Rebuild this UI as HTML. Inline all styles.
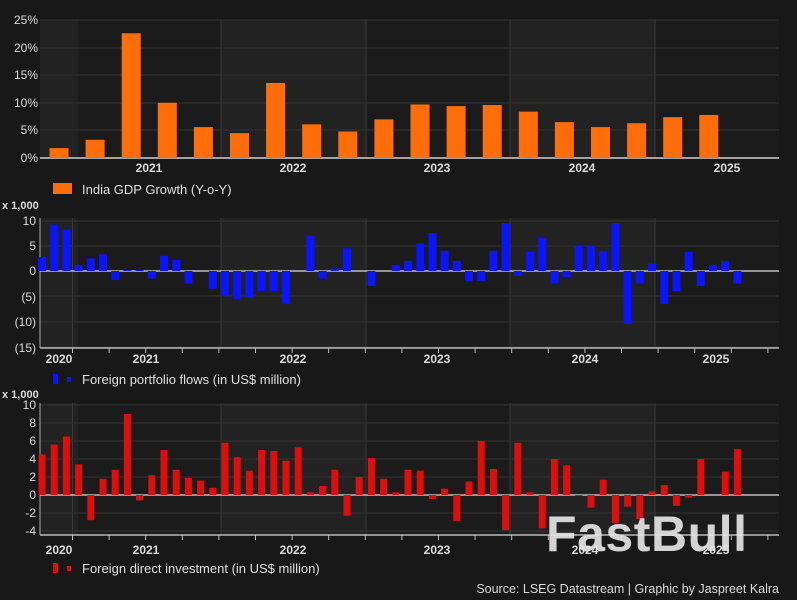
<!DOCTYPE html>
<html><head><meta charset="utf-8"><style>
html,body{margin:0;padding:0;background:#181818;}
svg{display:block;font-family:"Liberation Sans",Arial,sans-serif;}
</style></head><body>
<svg id="s" width="797" height="600" viewBox="0 0 797 600" xmlns="http://www.w3.org/2000/svg">
<rect width="797" height="600" fill="#181818"/>
<g id="bands"></g>
<g id="grid"></g>
<g id="bars"></g>
<g fill="#dcdcdc" font-size="12" text-anchor="end">
<text x="38" y="24">25%</text><text x="38" y="52">20%</text><text x="38" y="79">15%</text><text x="38" y="107">10%</text><text x="38" y="134">5%</text><text x="38" y="162">0%</text>
<text x="36" y="225">10</text><text x="36" y="250">5</text><text x="36" y="275">0</text><text x="36" y="301">(5)</text><text x="36" y="326">(10)</text><text x="36" y="352">(15)</text>
<text x="36" y="409">10</text><text x="36" y="427">8</text><text x="36" y="445">6</text><text x="36" y="463">4</text><text x="36" y="481">2</text><text x="36" y="499">0</text><text x="36" y="517">-2</text><text x="36" y="535">-4</text>
</g>
<g fill="#dcdcdc" font-size="12" text-anchor="middle" font-weight="bold">
<text x="149" y="172">2021</text><text x="293" y="172">2022</text><text x="437" y="172">2023</text><text x="582" y="172">2024</text><text x="727" y="172">2025</text>
<text x="59" y="363">2020</text><text x="146" y="363">2021</text><text x="293" y="363">2022</text><text x="437" y="363">2023</text><text x="585" y="363">2024</text><text x="716" y="363">2025</text>
<text x="59" y="554">2020</text><text x="146" y="554">2021</text><text x="293" y="554">2022</text><text x="437" y="554">2023</text><text x="585" y="554">2024</text><text x="716" y="554">2025</text>
</g>
<g fill="#dcdcdc" font-size="11" font-weight="bold">
<text x="2" y="209">x 1,000</text><text x="2" y="398">x 1,000</text>
</g>
<rect x="53" y="183" width="19" height="11" fill="#ff6d0a"/>
<rect x="53" y="374" width="5" height="10" fill="#0a14ff"/><rect x="67" y="377" width="4" height="5" fill="#0a14ff"/>
<rect x="53" y="563" width="5" height="10" fill="#e00d0d"/><rect x="67" y="566" width="4" height="5" fill="#e00d0d"/>
<g fill="#e0e0e0" font-size="13">
<text x="82" y="194">India GDP Growth (Y-o-Y)</text>
<text x="82" y="384">Foreign portfolio flows (in US$ million)</text>
<text x="82" y="573">Foreign direct investment (in US$ million)</text>
</g>
<text x="779" y="593" fill="#dcdcdc" font-size="12.5" text-anchor="end">Source: LSEG Datastream | Graphic by Jaspreet Kalra</text>
<text x="546" y="551" fill="#e4e4e4" fill-opacity="0.92" font-size="50" font-weight="bold" letter-spacing="-1" textLength="200">FastBull</text>
</svg>
<script>
var NS="http://www.w3.org/2000/svg";
function R(g,x,y,w,h,f){var r=document.createElementNS(NS,"rect");r.setAttribute("x",x);r.setAttribute("y",y);r.setAttribute("width",w);r.setAttribute("height",h);r.setAttribute("fill",f);document.getElementById(g).appendChild(r);}
function L(x1,y1,x2,y2,c,w){var l=document.createElementNS(NS,"line");l.setAttribute("x1",x1);l.setAttribute("y1",y1);l.setAttribute("x2",x2);l.setAttribute("y2",y2);l.setAttribute("stroke",c);l.setAttribute("stroke-width",w||1);document.getElementById("grid").appendChild(l);}
var bounds=[40,78,221,366,510,655,779];
var panels=[[20,158],[218,348],[403,535]];
panels.forEach(function(p,pi){
  for(var i=0;i<6;i++){var x0=bounds[i],x1=bounds[i+1];
    var light=(i%2==0);
    R("bands",x0,p[0],x1-x0,p[1]-p[0],light?"#222222":"#1b1b1b");}
  [221,366,510,655].forEach(function(x){L(x,p[0],x,p[1],"#3a3a3a");});
  if(pi>0)L(72.5,p[0],72.5,p[1],"#3a3a3a");
});
[20,48,75,103,130].forEach(function(y){L(40,y,779,y,"#333");});
L(40,158,779,158,"#cfcfcf",1.5);
[221,246,296,322,347].forEach(function(y){L(40,y,779,y,"#333");});
[405,423,441,459,477,513,531].forEach(function(y){L(40,y,779,y,"#333");});
L(40,218,40,348,"#aaa");L(40,348,779,348,"#bbb",1.5);
L(40,403,40,535,"#aaa");L(40,535,779,535,"#bbb",1.5);
for(var x=72.5;x<779;x+=36.6){L(x,348,x,353,"#bbb");L(x,535,x,540,"#bbb");}
var g=[1.8,3.3,22.6,10,5.6,4.5,13.6,6.1,4.8,7,9.7,9.4,9.6,8.4,6.5,5.6,6.3,7.4,7.8];
g.forEach(function(v,i){var cx=59+i*36.1,h=v*5.52;R("bars",cx-9.5,158-h,19,h,"#ff6d0a");});
var f=[2.8,9.2,8.2,1.2,2.5,3.3,-1.8,0.2,0.2,-1.5,3,2.2,-2.5,0,-3.5,-5,-5.5,-5.3,-4,-4,-6.5,0,7,-1.5,0.5,4.5,0,-3,0,1.2,2,5.5,7.5,4,2,-2,-2,4,9.5,-1,3.8,6.5,-2.5,-1.2,5,5,4,9.5,-10.5,-2.5,1.5,-6.5,-4,3.8,-3,1.2,2,-2.5];
f.forEach(function(v,i){var cx=42+i*12.2,h=Math.abs(v)*5.05;R("bars",cx-4,v>=0?271-h:271,8,h,"#0a14ff");});
var d=[4.5,5.6,6.5,3.4,-2.8,1.8,2.8,9,-0.6,2.2,5,2.8,1.9,1.6,0.8,5.8,4.2,2.7,5,4.9,3.8,5.3,0.3,1,2.8,-2.3,2,4.1,1.8,0.3,2.8,2.7,-0.45,0.7,-2.9,1.5,6,2.9,-3.9,5.8,0.3,-3.7,4,3.3,-0.1,-1.4,1.7,-3.1,-1.3,-2.7,0.4,1.1,-1.2,-0.3,4,0,2.6,5.1];
d.forEach(function(v,i){var cx=42+i*12.2,h=Math.abs(v)*9;R("bars",cx-3.5,v>=0?495-h:495,7,h,"#e00d0d");});
L(40,271,779,271,"#dcdcdc",1.2);L(40,495,779,495,"#dcdcdc",1.2);
</script>
</body></html>
